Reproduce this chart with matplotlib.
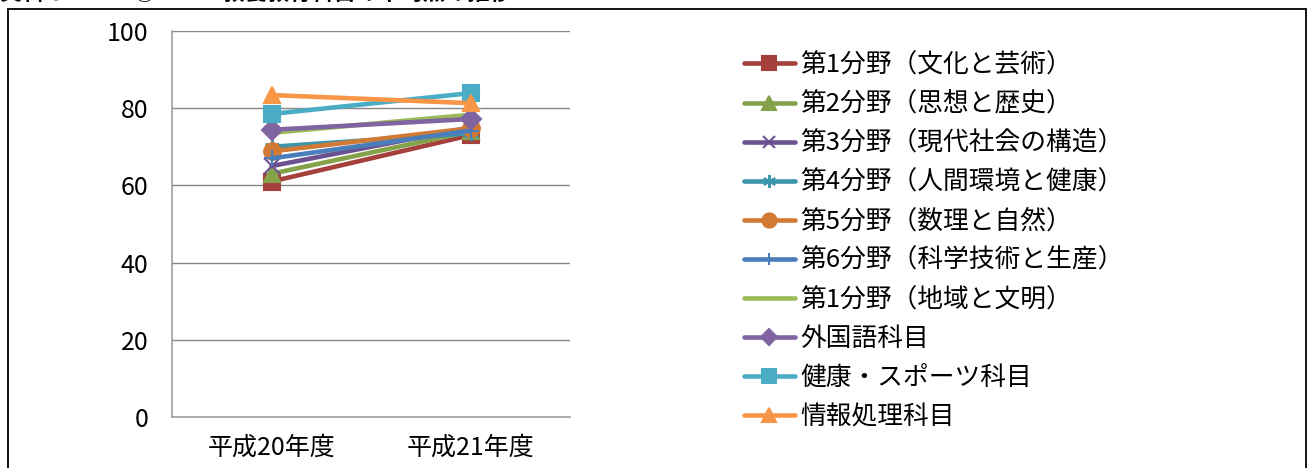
"""Average score trend for liberal arts subject groups, H20 vs H21."""

import matplotlib

matplotlib.use("Agg")
import matplotlib.pyplot as plt
from matplotlib.patches import Rectangle

plt.rcParams["font.family"] = ["Noto Sans CJK JP", "DejaVu Sans"]

years = ["平成20年度", "平成21年度"]
labels = [
    "第1分野（文化と芸術）",
    "第2分野（思想と歴史）",
    "第3分野（現代社会の構造）",
    "第4分野（人間環境と健康）",
    "第5分野（数理と自然）",
    "第6分野（科学技術と生産）",
    "第1分野（地域と文明）",
    "外国語科目",
    "健康・スポーツ科目",
    "情報処理科目",
]
h20 = [61.0, 63.0, 65.0, 70.0, 68.8, 67.0, 73.6, 74.4, 78.5, 83.4]
h21 = [73.0, 74.0, 75.0, 73.5, 74.8, 74.2, 78.3, 77.2, 83.9, 81.3]

colors = ["#A5403D", "#84A24A", "#6C5190", "#3C95AA", "#D07A35",
          "#4A7EBB", "#9BBB59", "#8064A2", "#4BACC6", "#F79646"]
markers = ["s", "^", "x", (6, 2, 0), "o", "+", None, "D", "s", "^"]

fig = plt.figure(figsize=(13.14, 4.68), dpi=100)
ax = fig.add_axes([0.1309, 0.109, 0.3029, 0.8248])

x = range(len(years))
for lab, a, b, c, m in zip(labels, h20, h21, colors, markers):
    ms = 12 if m in ("s", "^", "o") else 11
    if m == "D":
        ms = 10
    ax.plot(x, [a, b], color=c, lw=3.3, marker=m, ms=ms,
            mec=c, mfc=c, mew=1.5, label=lab, solid_capstyle="round")

ax.set_xlim(-0.5, 1.5)
ax.set_ylim(0, 100)
ax.set_yticks([0, 20, 40, 60, 80, 100])
ax.set_xticks(list(x))
ax.set_xticklabels(years)
ax.tick_params(length=0, labelsize=18, pad=13)
ax.tick_params(axis="y", pad=17)
ax.grid(axis="y", color="#868686", lw=1)
ax.set_axisbelow(True)
for s in ("top", "right"):
    ax.spines[s].set_visible(False)
for s in ("left", "bottom"):
    ax.spines[s].set_color("#A0A0A0")
    ax.spines[s].set_linewidth(1.2)

leg = ax.legend(loc="upper left", bbox_to_anchor=(0.566, 0.888),
                bbox_transform=fig.transFigure, frameon=False, fontsize=18.5,
                handlelength=2.0, handletextpad=0.2, labelspacing=0.51,
                borderaxespad=0, borderpad=0, markerscale=0.85)

# outer frame, its bottom runs past the image
fig.patches.append(Rectangle((8 / 1314, -0.1), 1298 / 1314, 1.1 - 9 / 468,
                             transform=fig.transFigure, fill=False,
                             ec="black", lw=1.3, clip_on=False))
fig.text(0.0, 1 - 5 / 468, "資料６－１－③－３　教養教育科目の平均点の推移",
         fontsize=16, fontweight="bold", va="bottom", ha="left")

fig.savefig("out.png", dpi=100)
